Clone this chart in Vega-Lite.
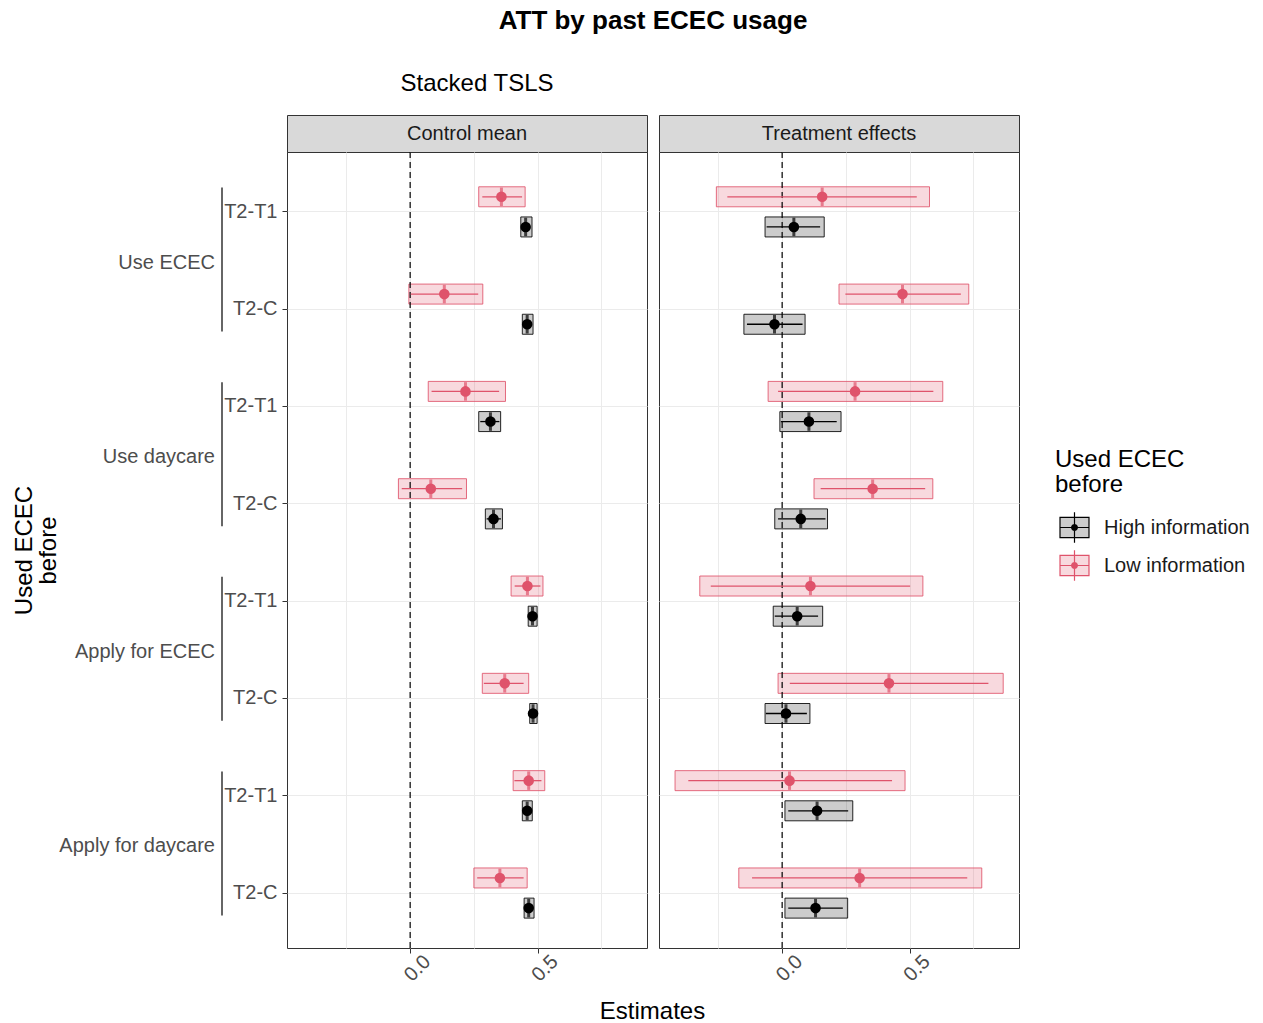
{
  "$schema": "https://vega.github.io/schema/vega-lite/v6.json",
  "background": "white",
  "padding": {"left": 12, "top": 7, "right": 5, "bottom": 0},
  "title": {"text": "ATT by past ECEC usage", "fontSize": 26, "fontWeight": "bold", "anchor": "middle", "dx": 22, "offset": 38, "color": "#000000"},
  "config": {
    "font": "Liberation Sans",
    "view": {"stroke": "#333333", "strokeWidth": 1},
    "axis": {"domain": false, "labelFont": "Liberation Sans", "titleFont": "Liberation Sans", "gridColor": "#EBEBEB", "gridWidth": 1, "tickColor": "#333333", "labelColor": "#4D4D4D", "labelFontSize": 20, "titleFontWeight": "normal", "titleColor": "#000000", "titleFontSize": 24},
    "legend": {"titleFont": "Liberation Sans", "labelFont": "Liberation Sans", "titleFontSize": 24, "titleFontWeight": "normal", "titleColor": "#000000", "titleLineHeight": 25, "labelFontSize": 20, "labelColor": "#1A1A1A", "symbolType": "M-1,-0.7H1V0.7H-1Z M0,-1.05V1.05 M-1,0H1 M-0.2,0A0.2,0.2 0 1,0 0.2,0A0.2,0.2 0 1,0 -0.2,0 M-0.12,0A0.12,0.12 0 1,0 0.12,0A0.12,0.12 0 1,0 -0.12,0 M-0.05,0A0.05,0.05 0 1,0 0.05,0A0.05,0.05 0 1,0 -0.05,0", "symbolSize": 840, "symbolStrokeWidth": 1.2, "symbolOpacity": 1, "symbolOffset": 4, "rowPadding": 1, "labelOffset": 14, "titlePadding": 15},
    "title": {"font": "Liberation Sans", "color": "#000000"}
  },
  "datasets": {
    "est": [
      {"panel":"Control mean","outcome":"Use ECEC","comparison":"T2-T1","key":"Use ECEC|T2-T1","info":"Low information","estimate":0.358,"box_lo":0.269,"box_hi":0.451,"line_lo":0.283,"line_hi":0.439},
      {"panel":"Control mean","outcome":"Use ECEC","comparison":"T2-T1","key":"Use ECEC|T2-T1","info":"High information","estimate":0.453,"box_lo":0.434,"box_hi":0.478,"line_lo":0.438,"line_hi":0.470},
      {"panel":"Control mean","outcome":"Use ECEC","comparison":"T2-C","key":"Use ECEC|T2-C","info":"Low information","estimate":0.134,"box_lo":-0.005,"box_hi":0.285,"line_lo":0.002,"line_hi":0.267},
      {"panel":"Control mean","outcome":"Use ECEC","comparison":"T2-C","key":"Use ECEC|T2-C","info":"High information","estimate":0.459,"box_lo":0.440,"box_hi":0.482,"line_lo":0.444,"line_hi":0.474},
      {"panel":"Control mean","outcome":"Use daycare","comparison":"T2-T1","key":"Use daycare|T2-T1","info":"Low information","estimate":0.217,"box_lo":0.071,"box_hi":0.374,"line_lo":0.084,"line_hi":0.349},
      {"panel":"Control mean","outcome":"Use daycare","comparison":"T2-T1","key":"Use daycare|T2-T1","info":"High information","estimate":0.315,"box_lo":0.269,"box_hi":0.355,"line_lo":0.275,"line_hi":0.350},
      {"panel":"Control mean","outcome":"Use daycare","comparison":"T2-C","key":"Use daycare|T2-C","info":"Low information","estimate":0.081,"box_lo":-0.046,"box_hi":0.221,"line_lo":-0.033,"line_hi":0.204},
      {"panel":"Control mean","outcome":"Use daycare","comparison":"T2-C","key":"Use daycare|T2-C","info":"High information","estimate":0.327,"box_lo":0.295,"box_hi":0.362,"line_lo":0.300,"line_hi":0.356},
      {"panel":"Control mean","outcome":"Apply for ECEC","comparison":"T2-T1","key":"Apply for ECEC|T2-T1","info":"Low information","estimate":0.460,"box_lo":0.396,"box_hi":0.521,"line_lo":0.410,"line_hi":0.511},
      {"panel":"Control mean","outcome":"Apply for ECEC","comparison":"T2-T1","key":"Apply for ECEC|T2-T1","info":"High information","estimate":0.480,"box_lo":0.463,"box_hi":0.498,"line_lo":0.466,"line_hi":0.494},
      {"panel":"Control mean","outcome":"Apply for ECEC","comparison":"T2-C","key":"Apply for ECEC|T2-C","info":"Low information","estimate":0.371,"box_lo":0.283,"box_hi":0.465,"line_lo":0.289,"line_hi":0.445},
      {"panel":"Control mean","outcome":"Apply for ECEC","comparison":"T2-C","key":"Apply for ECEC|T2-C","info":"High information","estimate":0.482,"box_lo":0.469,"box_hi":0.498,"line_lo":0.471,"line_hi":0.494},
      {"panel":"Control mean","outcome":"Apply for daycare","comparison":"T2-T1","key":"Apply for daycare|T2-T1","info":"Low information","estimate":0.465,"box_lo":0.404,"box_hi":0.528,"line_lo":0.409,"line_hi":0.515},
      {"panel":"Control mean","outcome":"Apply for daycare","comparison":"T2-T1","key":"Apply for daycare|T2-T1","info":"High information","estimate":0.459,"box_lo":0.440,"box_hi":0.479,"line_lo":0.443,"line_hi":0.475},
      {"panel":"Control mean","outcome":"Apply for daycare","comparison":"T2-C","key":"Apply for daycare|T2-C","info":"Low information","estimate":0.352,"box_lo":0.250,"box_hi":0.459,"line_lo":0.263,"line_hi":0.445},
      {"panel":"Control mean","outcome":"Apply for daycare","comparison":"T2-C","key":"Apply for daycare|T2-C","info":"High information","estimate":0.465,"box_lo":0.447,"box_hi":0.486,"line_lo":0.450,"line_hi":0.482},
      {"panel":"Treatment effects","outcome":"Use ECEC","comparison":"T2-T1","key":"Use ECEC|T2-T1","info":"Low information","estimate":0.157,"box_lo":-0.258,"box_hi":0.578,"line_lo":-0.215,"line_hi":0.528},
      {"panel":"Treatment effects","outcome":"Use ECEC","comparison":"T2-T1","key":"Use ECEC|T2-T1","info":"High information","estimate":0.046,"box_lo":-0.067,"box_hi":0.165,"line_lo":-0.061,"line_hi":0.149},
      {"panel":"Treatment effects","outcome":"Use ECEC","comparison":"T2-C","key":"Use ECEC|T2-C","info":"Low information","estimate":0.472,"box_lo":0.223,"box_hi":0.732,"line_lo":0.248,"line_hi":0.701},
      {"panel":"Treatment effects","outcome":"Use ECEC","comparison":"T2-C","key":"Use ECEC|T2-C","info":"High information","estimate":-0.030,"box_lo":-0.150,"box_hi":0.090,"line_lo":-0.138,"line_hi":0.080},
      {"panel":"Treatment effects","outcome":"Use daycare","comparison":"T2-T1","key":"Use daycare|T2-T1","info":"Low information","estimate":0.286,"box_lo":-0.055,"box_hi":0.630,"line_lo":-0.016,"line_hi":0.593},
      {"panel":"Treatment effects","outcome":"Use daycare","comparison":"T2-T1","key":"Use daycare|T2-T1","info":"High information","estimate":0.105,"box_lo":-0.009,"box_hi":0.231,"line_lo":-0.005,"line_hi":0.214},
      {"panel":"Treatment effects","outcome":"Use daycare","comparison":"T2-C","key":"Use daycare|T2-C","info":"Low information","estimate":0.355,"box_lo":0.125,"box_hi":0.591,"line_lo":0.151,"line_hi":0.561},
      {"panel":"Treatment effects","outcome":"Use daycare","comparison":"T2-C","key":"Use daycare|T2-C","info":"High information","estimate":0.073,"box_lo":-0.029,"box_hi":0.178,"line_lo":-0.016,"line_hi":0.170},
      {"panel":"Treatment effects","outcome":"Apply for ECEC","comparison":"T2-T1","key":"Apply for ECEC|T2-T1","info":"Low information","estimate":0.111,"box_lo":-0.323,"box_hi":0.552,"line_lo":-0.280,"line_hi":0.502},
      {"panel":"Treatment effects","outcome":"Apply for ECEC","comparison":"T2-T1","key":"Apply for ECEC|T2-T1","info":"High information","estimate":0.059,"box_lo":-0.035,"box_hi":0.159,"line_lo":-0.029,"line_hi":0.141},
      {"panel":"Treatment effects","outcome":"Apply for ECEC","comparison":"T2-C","key":"Apply for ECEC|T2-C","info":"Low information","estimate":0.419,"box_lo":-0.016,"box_hi":0.867,"line_lo":0.030,"line_hi":0.809},
      {"panel":"Treatment effects","outcome":"Apply for ECEC","comparison":"T2-C","key":"Apply for ECEC|T2-C","info":"High information","estimate":0.015,"box_lo":-0.067,"box_hi":0.109,"line_lo":-0.064,"line_hi":0.097},
      {"panel":"Treatment effects","outcome":"Apply for daycare","comparison":"T2-T1","key":"Apply for daycare|T2-T1","info":"Low information","estimate":0.029,"box_lo":-0.420,"box_hi":0.482,"line_lo":-0.368,"line_hi":0.431},
      {"panel":"Treatment effects","outcome":"Apply for daycare","comparison":"T2-T1","key":"Apply for daycare|T2-T1","info":"High information","estimate":0.137,"box_lo":0.011,"box_hi":0.277,"line_lo":0.024,"line_hi":0.259},
      {"panel":"Treatment effects","outcome":"Apply for daycare","comparison":"T2-C","key":"Apply for daycare|T2-C","info":"Low information","estimate":0.304,"box_lo":-0.170,"box_hi":0.783,"line_lo":-0.118,"line_hi":0.726},
      {"panel":"Treatment effects","outcome":"Apply for daycare","comparison":"T2-C","key":"Apply for daycare|T2-C","info":"High information","estimate":0.131,"box_lo":0.011,"box_hi":0.257,"line_lo":0.024,"line_hi":0.238}
    ],
    "groups": [
      {"outcome":"Use ECEC","first":"Use ECEC|T2-T1","last":"Use ECEC|T2-C"},
      {"outcome":"Use daycare","first":"Use daycare|T2-T1","last":"Use daycare|T2-C"},
      {"outcome":"Apply for ECEC","first":"Apply for ECEC|T2-T1","last":"Apply for ECEC|T2-C"},
      {"outcome":"Apply for daycare","first":"Apply for daycare|T2-T1","last":"Apply for daycare|T2-C"}
    ]
  },
  "bounds": "flush",
  "columns": 4,
  "spacing": {"row": 0, "column": 12},
  "resolve": {"scale": {"fill": "shared", "stroke": "shared"}, "legend": {"fill": "shared", "stroke": "shared"}},
  "concat": [
    {
      "width": 158, "height": 37,
      "view": {"stroke": null},
      "data": {"values": [{"t": ""}]},
      "mark": {"type": "text"},
      "encoding": {"text": {"field": "t"}}
    },
    {
      "width": 41, "height": 37,
      "view": {"stroke": null},
      "data": {"values": [{"t": ""}]},
      "mark": {"type": "text"},
      "encoding": {"text": {"field": "t"}}
    },
    {
      "width": 360, "height": 37,
      "title": {"text": "Stacked TSLS", "fontSize": 24, "fontWeight": "normal", "anchor": "middle", "dx": 10, "offset": 19},
      "view": {"fill": "#D9D9D9", "stroke": "#333333"},
      "data": {"values": [{"label": "Control mean"}]},
      "mark": {"type": "text", "fontSize": 20, "color": "#1A1A1A", "baseline": "middle"},
      "encoding": {"text": {"field": "label"}}
    },
    {
      "width": 360, "height": 37,
      "view": {"fill": "#D9D9D9", "stroke": "#333333"},
      "data": {"values": [{"label": "Treatment effects"}]},
      "mark": {"type": "text", "fontSize": 20, "color": "#1A1A1A", "baseline": "middle"},
      "encoding": {"text": {"field": "label"}}
    },
    {
      "width": 158, "height": 796,
      "view": {"stroke": null},
      "data": {"name": "groups"},
      "layer": [
        {
          "mark": {"type": "rule", "color": "#333333", "strokeWidth": 1.5},
          "encoding": {
            "x": {"value": "width"},
            "y": {"field": "first", "type": "nominal", "bandPosition": 0.25,
                  "scale": {"domain": ["Use ECEC|T2-T1","Use ECEC|T2-C","Use daycare|T2-T1","Use daycare|T2-C","Apply for ECEC|T2-T1","Apply for ECEC|T2-C","Apply for daycare|T2-T1","Apply for daycare|T2-C"], "paddingInner": 0, "paddingOuter": 0.09, "align": 0.64},
                  "axis": {"title": ["Used ECEC", "\u00a0before"], "labels": false, "ticks": false, "grid": false, "titlePadding": 4, "titleLineHeight": 24}},
            "y2": {"field": "last", "bandPosition": 0.73}
          }
        },
        {
          "mark": {"type": "text", "align": "right", "baseline": "middle", "dx": -7, "dy": 2, "fontSize": 20, "color": "#4D4D4D"},
          "encoding": {
            "x": {"value": "width"},
            "y": {"field": "first", "type": "nominal", "bandPosition": 1},
            "text": {"field": "outcome"}
          }
        }
      ]
    },
    {
      "width": 41, "height": 796,
      "view": {"stroke": null},
      "data": {"values": [{"t": ""}]},
      "mark": {"type": "text"},
      "encoding": {"text": {"field": "t"}}
    },
    {
      "width": 360, "height": 796,
      "data": {"name": "est"},
      "transform": [{"filter": "datum.panel == 'Control mean'"}],
      "layer": [
        {
          "mark": {"type": "bar", "height": 20, "strokeWidth": 1, "strokeOpacity": 0.85},
          "encoding": {
            "x": {"field": "box_lo", "type": "quantitative",
                  "scale": {"domain": [-0.483, 0.929], "nice": false, "zero": false},
                  "axis": {"values": [-0.25, 0, 0.25, 0.5, 0.75], "labelExpr": "datum.value == 0 ? '0.0' : (datum.value == 0.5 ? '0.5' : '')",
                           "tickOpacity": {"condition": {"test": "datum.value == 0 || datum.value == 0.5", "value": 1}, "value": 0},
                           "tickSize": 5, "labelAngle": -45, "labelAlign": "center", "labelBaseline": "middle", "labelPadding": 15, "labelOffset": 7,
                           "title": "Estimates", "titleX": 365, "titleAlign": "center", "titlePadding": 15}},
            "x2": {"field": "box_hi"},
            "y": {"field": "key", "type": "nominal",
                  "scale": {"domain": ["Use ECEC|T2-T1","Use ECEC|T2-C","Use daycare|T2-T1","Use daycare|T2-C","Apply for ECEC|T2-T1","Apply for ECEC|T2-C","Apply for daycare|T2-T1","Apply for daycare|T2-C"], "paddingInner": 0, "paddingOuter": 0.09, "align": 0.64},
                  "axis": {"title": null, "labelExpr": "split(datum.label, '|')[1]", "grid": true, "ticks": true, "tickSize": 5, "labelPadding": 5}},
            "yOffset": {"field": "info", "type": "nominal", "scale": {"domain": ["Low information", "High information"], "paddingInner": 0, "paddingOuter": 0.613}},
            "fill": {"field": "info", "type": "nominal", "scale": {"domain": ["High information", "Low information"], "range": ["rgba(0,0,0,0.2)", "rgba(223,83,107,0.22)"]}, "legend": {"title": ["Used ECEC", "\u00a0before"], "orient": "none", "legendX": 991, "legendY": 333}},
            "stroke": {"field": "info", "type": "nominal", "scale": {"domain": ["High information", "Low information"], "range": ["#000000", "#DF536B"]}, "legend": {"title": ["Used ECEC", "\u00a0before"], "orient": "none", "legendX": 991, "legendY": 333}}
          }
        },
        {
          "data": {"values": [{"ref": 0}]},
          "mark": {"type": "rule", "color": "#000000", "strokeDash": [6, 4], "strokeWidth": 1.2},
          "encoding": {"x": {"field": "ref", "type": "quantitative"}}
        },
        {
          "mark": {"type": "rule", "strokeWidth": 1.3},
          "encoding": {
            "x": {"field": "line_lo", "type": "quantitative"},
            "x2": {"field": "line_hi"},
            "y": {"field": "key", "type": "nominal"},
            "yOffset": {"field": "info", "type": "nominal"},
            "stroke": {"field": "info", "type": "nominal"}
          }
        },
        {
          "mark": {"type": "tick", "filled": false, "thickness": 0.5, "size": 16, "strokeWidth": 2.5},
          "encoding": {
            "x": {"field": "estimate", "type": "quantitative"},
            "y": {"field": "key", "type": "nominal"},
            "yOffset": {"field": "info", "type": "nominal"},
            "stroke": {"field": "info", "type": "nominal"}
          }
        },
        {
          "mark": {"type": "circle", "filled": false, "size": 26, "strokeWidth": 5.5, "opacity": 1, "strokeOpacity": 1},
          "encoding": {
            "x": {"field": "estimate", "type": "quantitative"},
            "y": {"field": "key", "type": "nominal"},
            "yOffset": {"field": "info", "type": "nominal"},
            "stroke": {"field": "info", "type": "nominal"}
          }
        }
      ]
    },
    {
      "width": 360, "height": 796,
      "data": {"name": "est"},
      "transform": [{"filter": "datum.panel == 'Treatment effects'"}],
      "layer": [
        {
          "mark": {"type": "bar", "height": 20, "strokeWidth": 1, "strokeOpacity": 0.85},
          "encoding": {
            "x": {"field": "box_lo", "type": "quantitative",
                  "scale": {"domain": [-0.483, 0.929], "nice": false, "zero": false},
                  "axis": {"values": [-0.25, 0, 0.25, 0.5, 0.75], "labelExpr": "datum.value == 0 ? '0.0' : (datum.value == 0.5 ? '0.5' : '')",
                           "tickOpacity": {"condition": {"test": "datum.value == 0 || datum.value == 0.5", "value": 1}, "value": 0},
                           "tickSize": 5, "labelAngle": -45, "labelAlign": "center", "labelBaseline": "middle", "labelPadding": 15, "labelOffset": 7,
                           "title": null}},
            "x2": {"field": "box_hi"},
            "y": {"field": "key", "type": "nominal",
                  "scale": {"domain": ["Use ECEC|T2-T1","Use ECEC|T2-C","Use daycare|T2-T1","Use daycare|T2-C","Apply for ECEC|T2-T1","Apply for ECEC|T2-C","Apply for daycare|T2-T1","Apply for daycare|T2-C"], "paddingInner": 0, "paddingOuter": 0.09, "align": 0.64},
                  "axis": {"title": null, "labels": false, "ticks": false, "grid": true}},
            "yOffset": {"field": "info", "type": "nominal", "scale": {"domain": ["Low information", "High information"], "paddingInner": 0, "paddingOuter": 0.613}},
            "fill": {"field": "info", "type": "nominal"},
            "stroke": {"field": "info", "type": "nominal"}
          }
        },
        {
          "data": {"values": [{"ref": 0}]},
          "mark": {"type": "rule", "color": "#000000", "strokeDash": [6, 4], "strokeWidth": 1.2},
          "encoding": {"x": {"field": "ref", "type": "quantitative"}}
        },
        {
          "mark": {"type": "rule", "strokeWidth": 1.3},
          "encoding": {
            "x": {"field": "line_lo", "type": "quantitative"},
            "x2": {"field": "line_hi"},
            "y": {"field": "key", "type": "nominal"},
            "yOffset": {"field": "info", "type": "nominal"},
            "stroke": {"field": "info", "type": "nominal"}
          }
        },
        {
          "mark": {"type": "tick", "filled": false, "thickness": 0.5, "size": 16, "strokeWidth": 2.5},
          "encoding": {
            "x": {"field": "estimate", "type": "quantitative"},
            "y": {"field": "key", "type": "nominal"},
            "yOffset": {"field": "info", "type": "nominal"},
            "stroke": {"field": "info", "type": "nominal"}
          }
        },
        {
          "mark": {"type": "circle", "filled": false, "size": 26, "strokeWidth": 5.5, "opacity": 1, "strokeOpacity": 1},
          "encoding": {
            "x": {"field": "estimate", "type": "quantitative"},
            "y": {"field": "key", "type": "nominal"},
            "yOffset": {"field": "info", "type": "nominal"},
            "stroke": {"field": "info", "type": "nominal"}
          }
        }
      ]
    }
  ]
}
